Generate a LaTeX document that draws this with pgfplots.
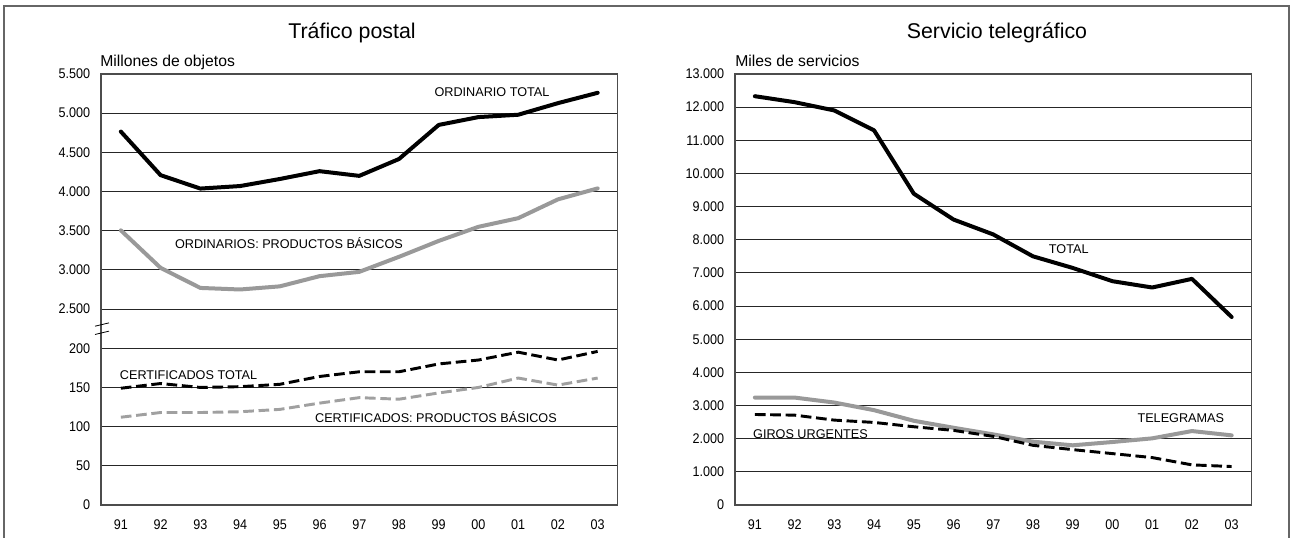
\documentclass[border=0pt]{standalone}
\usepackage{pgfplots}
\pgfplotsset{compat=1.18}
\usepackage{fontspec}
\setmainfont{Liberation Sans}
\newfontfamily\narrow{Liberation Sans}[FakeStretch=0.9]
\definecolor{lgray}{HTML}{999999}
\definecolor{dgray}{HTML}{A0A0A0}

\begin{document}
\begin{tikzpicture}[x=0.75pt,y=0.75pt]
\useasboundingbox (0,0) rectangle (1290,538);
\draw[black!60, line width=1.5pt] (4,0) -- (4,532) -- (1289,532) -- (1289,0);

\pgfplotsset{
  mystyle/.style={
    scale only axis, anchor=south west,
    width=387.4pt, height=323.25pt,
    xmin=-0.5, xmax=12.5,
    xtick={0,...,12},
    xticklabels={91,92,93,94,95,96,97,98,99,00,01,02,03},
    scaled y ticks=false,
    ymajorgrids, major grid style={black!85, line width=0.7pt},
    axis line style={black!70, line width=0.9pt},
    major tick length=0pt,
    tick label style={font=\narrow\fontsize{10.5}{12}\selectfont},
    yticklabel style={anchor=east, inner sep=0pt, xshift=-8pt},
    xticklabel style={anchor=north, inner sep=0pt, yshift=-11pt},
    clip=false,
  },
  blk/.style={black, line width=3pt, line join=round, line cap=round},
  gry/.style={lgray, line width=3pt, line join=round, line cap=round},
  blkd/.style={black, line width=2.2pt, dash pattern=on 8pt off 3.5pt},
  gryd/.style={dgray, line width=2.2pt, dash pattern=on 8pt off 3.5pt},
}
\tikzset{lab/.style={font=\fontsize{9.5}{11}\selectfont}}

% ---------------- Left panel ----------------
\begin{axis}[mystyle, at={(75.75pt,24.75pt)},
  ymin=0, ymax=11, ytick={0,...,11},
  yticklabels={0,50,100,150,200,2.500,3.000,3.500,4.000,4.500,5.000,5.500}]
\addplot[blk, y filter/.expression={5+(y-2500)/500}] coordinates {
(0,4765) (1,4209) (2,4038) (3,4070) (4,4160) (5,4260) (6,4200) (7,4415) (8,4850) (9,4950) (10,4980) (11,5128) (12,5260)};
\addplot[gry, y filter/.expression={5+(y-2500)/500}] coordinates {
(0,3505) (1,3026) (2,2770) (3,2750) (4,2790) (5,2920) (6,2975) (7,3167) (8,3370) (9,3550) (10,3660) (11,3900) (12,4040)};
\addplot[blkd, y filter/.expression={y/50}] coordinates {
(0,149) (1,155) (2,150) (3,151) (4,154) (5,164) (6,170) (7,170) (8,180) (9,185) (10,195) (11,185) (12,196)};
\addplot[gryd, y filter/.expression={y/50}] coordinates {
(0,112) (1,118) (2,118) (3,119) (4,122) (5,130) (6,137) (7,135) (8,143) (9,150) (10,162) (11,153) (12,162)};
\node[lab] at (axis cs:9.34,10.54) {ORDINARIO TOTAL};
\node[lab] at (axis cs:4.23,6.69) {ORDINARIOS: PRODUCTOS BÁSICOS};
\node[lab, anchor=west, inner sep=0pt] at (axis cs:-0.03,3.32) {CERTIFICADOS TOTAL};
\node[lab] at (axis cs:7.93,2.25) {CERTIFICADOS: PRODUCTOS BÁSICOS};
\draw[black, line width=0.6pt] ([xshift=-4.5pt,yshift=-0.5pt]axis cs:-0.5,4.58) -- ++(10.5pt,2.5pt);
\draw[black, line width=0.6pt] ([xshift=-4.5pt,yshift=-2pt]axis cs:-0.5,4.42) -- ++(10.5pt,2.5pt);
\end{axis}

% ---------------- Right panel ----------------
\begin{axis}[mystyle, at={(551.25pt,24.75pt)},
  ymin=0, ymax=13000, ytick={0,1000,...,13000},
  yticklabels={0,1.000,2.000,3.000,4.000,5.000,6.000,7.000,8.000,9.000,10.000,11.000,12.000,13.000}]
\addplot[blk] coordinates {
(0,12330) (1,12150) (2,11900) (3,11300) (4,9390) (5,8610) (6,8160) (7,7500) (8,7150) (9,6750) (10,6560) (11,6820) (12,5670)};
\addplot[gry] coordinates {
(0,3240) (1,3240) (2,3090) (3,2860) (4,2540) (5,2330) (6,2130) (7,1910) (8,1800) (9,1900) (10,2010) (11,2230) (12,2100)};
\addplot[blkd] coordinates {
(0,2730) (1,2710) (2,2560) (3,2490) (4,2360) (5,2250) (6,2070) (7,1800) (8,1670) (9,1550) (10,1430) (11,1210) (12,1160)};
\node[lab] at (axis cs:7.9,7710) {TOTAL};
\node[lab] at (axis cs:10.72,2630) {TELEGRAMAS};
\node[lab, anchor=west, inner sep=0pt] at (axis cs:-0.05,2140) {GIROS URGENTES};
\end{axis}

% titles
\node[font=\fontsize{16}{19}\selectfont] at (352,505) {Tráfico postal};
\node[font=\fontsize{16}{19}\selectfont] at (997,505) {Servicio telegráfico};
\node[font=\fontsize{11.8}{14}\selectfont, anchor=base west, inner sep=0pt] at (100,471) {Millones de objetos};
\node[font=\fontsize{11.8}{14}\selectfont, anchor=base west, inner sep=0pt] at (735,471) {Miles de servicios};
\end{tikzpicture}
\end{document}
